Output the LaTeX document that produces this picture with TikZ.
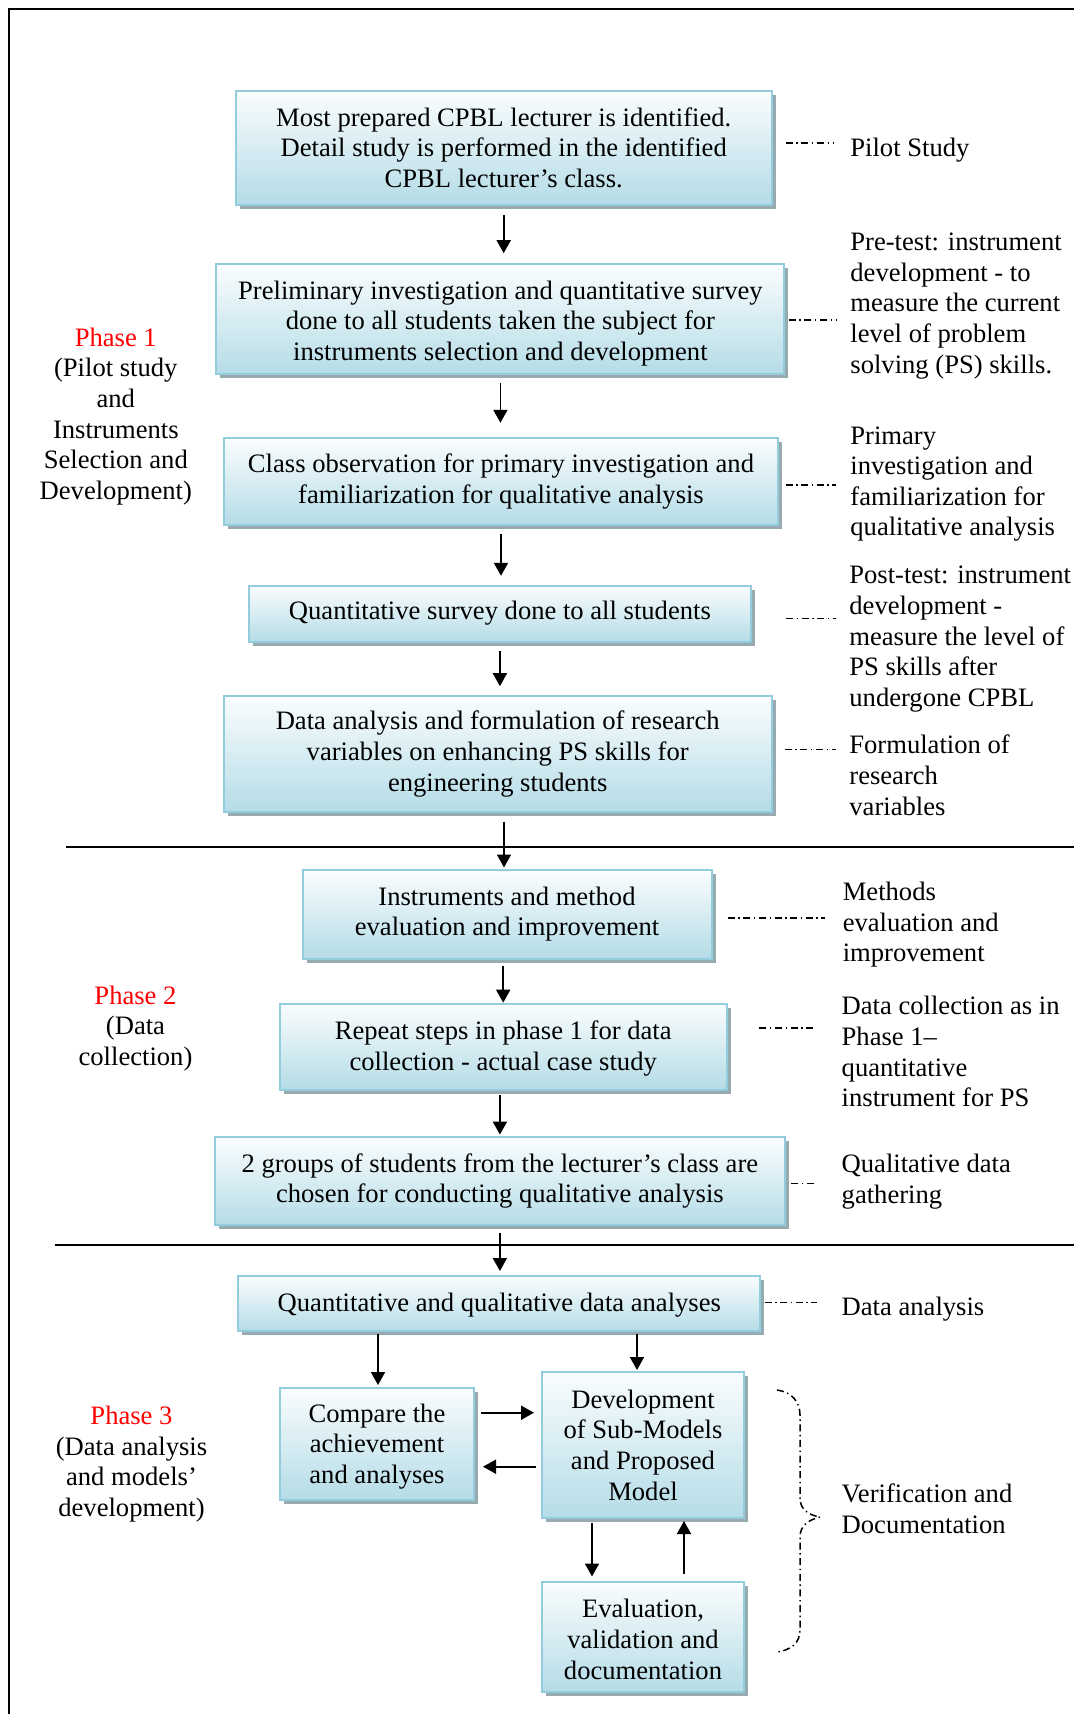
\documentclass[tikz,border=0pt]{standalone}
\usepackage{fontspec}
\setmainfont{Liberation Serif}
\usetikzlibrary{arrows.meta,calc,shadows}
\definecolor{boxtop}{HTML}{FAFDFE}
\definecolor{boxbot}{HTML}{B5DCE7}
\definecolor{boxline}{HTML}{93CDDD}
\definecolor{boxshade}{HTML}{97AAB0}
\newcommand\diagfont{\fontsize{13.3}{15.3}\selectfont}
% strut that lowers the text block of a box slightly
\newcommand\lowerby[1]{\rule{0pt}{\dimexpr 9.1pt+#1\relax}}
\tikzset{
  stage/.style={draw=boxline, line width=1pt, top color=boxtop, bottom color=boxbot,
    general shadow={fill=boxshade, shadow xshift=2pt, shadow yshift=-2pt},
    align=center, inner sep=0pt, font=\diagfont},
  note/.style={align=left, anchor=west, inner sep=0pt, font=\diagfont},
  phase/.style={align=center, inner sep=0pt, font=\diagfont},
  flow/.style={-{Triangle[length=6.5pt,width=7pt]}, line width=0.9pt},
  link/.style={line width=0.75pt, dash pattern=on 3.5pt off 1.8pt on 0.7pt off 1.8pt},
  rule/.style={line width=1pt}
}
\begin{document}
\begin{tikzpicture}[x=0.5pt,y=-0.5pt]
\useasboundingbox (0,0) rectangle (1074,1714);

% outer frame (top and left sides)
\draw[line width=1pt] (8.7,1714) -- (8.7,8.7) -- (1074,8.7);

% phase separators
\draw[rule] (65.6,846.8) -- (1074,846.8);
\draw[rule] (54.6,1244.5) -- (1074,1244.5);

% process boxes
\node[stage, minimum width=268pt, minimum height=57pt] (b1) at (503.7,147.5)
  {Most prepared CPBL lecturer is identified.\\Detail study is performed in the identified\\CPBL lecturer's class.};
\node[stage, minimum width=284pt, minimum height=55pt] (b2) at (500.4,319.0)
  {\lowerby{4.6pt}Preliminary investigation and quantitative survey\\done to all students taken the subject for\\instruments selection and development};
\node[stage, minimum width=277pt, minimum height=43.5pt] (b3) at (501,481.3)
  {Class observation for primary investigation and\\familiarization for qualitative analysis};
\node[stage, minimum width=251pt, minimum height=28pt] (b4) at (499.9,613.5)
  {Quantitative survey done to all students};
\node[stage, minimum width=274pt, minimum height=58pt] (b5) at (497.7,753.9)
  {Data analysis and formulation of research\\variables on enhancing PS skills for\\engineering students};
\node[stage, minimum width=204.5pt, minimum height=44.5pt] (b6) at (507,914)
  {Instruments and method\\evaluation and improvement};
\node[stage, minimum width=223.5pt, minimum height=43pt] (b7) at (503.2,1046.7)
  {\lowerby{2pt}Repeat steps in phase 1 for data\\collection - actual case study};
\node[stage, minimum width=285pt, minimum height=44pt] (b8) at (499.9,1181.1)
  {2 groups of students from the lecturer's class are\\chosen for conducting qualitative analysis};
\node[stage, minimum width=261pt, minimum height=27.5pt] (b9) at (499.3,1303.5)
  {\lowerby{2pt}Quantitative and qualitative data analyses};
\node[stage, minimum width=97pt, minimum height=56pt] (b10) at (377,1443.5)
  {\lowerby{3pt}Compare the\\achievement\\and analyses};
\node[stage, minimum width=101pt, minimum height=73pt] (b11) at (643,1445)
  {Development\\of Sub-Models\\and Proposed\\Model};
\node[stage, minimum width=101pt, minimum height=55pt] (b12) at (643,1636.5)
  {\lowerby{3pt}Evaluation,\\validation and\\documentation};

% main flow
\draw[flow] ($(b1.south)+(0,9.6)$) -- ($(b1.south |- b2.north)+(0,-9.8)$);
\draw[flow] ($(b2.south)+(0,7.6)$) -- ($(b2.south |- b3.north)+(0,-14)$);
\draw[flow] ($(b3.south)+(0,7.7)$) -- ($(b3.south |- b4.north)+(0,-8.7)$);
\draw[flow] ($(b4.south)+(0,8.8)$) -- ($(b4.south |- b5.north)+(0,-8.7)$);
\draw[flow] ($(b6.north |- b5.south)+(-3,8.7)$) -- ($(b6.north)+(-3,-1)$);
\draw[flow] ($(b7.north |- b6.south)+(0,6.6)$) -- (b7.north);
\draw[flow] ($(b8.north |- b7.south)+(0,4.4)$) -- ($(b8.north)+(0,-1.5)$);
\draw[flow] ($(b8.south)+(0,6.5)$) -- ($(b8.south |- b9.north)+(0,-4)$);
\draw[flow] ($(b10.north |- b9.south)+(1,1.5)$) -- ($(b10.north)+(1,-1.5)$);
\draw[flow] ($(b11.north |- b9.south)+(-6,1.5)$) -- ($(b11.north)+(-6,-1)$);

% model development loop
\coordinate (r0) at ($(b10.east)+(6,-30.8)$);
\coordinate (l0) at ($(b11.west)+(-5,21.7)$);
\draw[flow] (r0) -- ($(b11.west |- r0)+(-7,0)$);
\draw[flow] (l0) -- ($(b10.east |- l0)+(8,0)$);
\coordinate (d0) at ($(b11.south)+(-51,4)$);
\coordinate (u0) at ($(b12.north)+(41,-7)$);
\draw[flow] (d0) -- ($(b12.north -| d0)+(0,-4)$);
\draw[flow] (u0) -- ($(b11.south -| u0)+(0,2)$);

% descriptions on the right
\node[note] (n1) at (850,149.7) {Pilot Study};
\node[note] (n2) at (850,305.9) {Pre-test: instrument\\development - to\\measure the current\\level of problem\\solving (PS) skills.};
\node[note] (n3) at (850,484) {Primary\\investigation and\\familiarization for\\qualitative analysis};
\node[note] (n4) at (849,639.2) {Post-test: instrument\\development -\\measure the level of\\PS skills after\\undergone CPBL};
\node[note] (n5) at (849,775.2) {Formulation of\\research\\variables};
\node[note] (n6) at (842.4,924.9) {Methods\\evaluation and\\improvement};
\node[note] (n7) at (841.3,1051.6) {Data collection as in\\Phase 1--\\quantitative\\instrument for PS};
\node[note] (n8) at (841.3,1181.7) {Qualitative data\\gathering};
\node[note] (n9) at (841.3,1308.9) {Data analysis};
\node[note] (n10) at (841.3,1508.9) {Verification and\\Documentation};

% dash-dot leaders
\draw[link] ($(b1.east)+(13,-4.4)$) -- ++(48,0);
\draw[link] ($(b2.east)+(3.3,1.1)$) -- ++(47,0);
\draw[link] ($(b3.east)+(6.6,3.8)$) -- ++(50,0);
\draw[link] ($(b4.east)+(34,4.9)$) -- ++(50,0);
\draw[link] ($(b5.east)+(12,-4.4)$) -- ++(51,0);
\draw[link] ($(b6.east)+(15.3,3.8)$) -- ++(97,0);
\draw[link] ($(b7.east)+(31.7,-18.6)$) -- ++(55,0);
\draw[link] ($(b8.east)+(5.4,2.2)$) -- ++(26,0);
\draw[link] ($(b9.east)+(3.3,-1.1)$) -- ++(52.5,0);

% brace grouping the model development steps
\draw[link] (777,1390) .. controls (792,1392) and (800,1402) .. (800,1415)
  -- (800,1498) .. controls (800,1509) and (808,1515) .. (820,1517)
  .. controls (808,1520) and (800,1526) .. (800,1537)
  -- (800,1630) .. controls (800,1643) and (791,1650) .. (777,1652);

% phase labels
\node[phase] (p1) at (115.8,416.3) {\textcolor{red}{Phase 1}\\(Pilot study\\and\\Instruments\\Selection and\\Development)};
\node[phase] (p2) at (135.5,1028.2) {\textcolor{red}{Phase 2}\\(Data\\collection)};
\node[phase] (p3) at (131.5,1464.1) {\textcolor{red}{Phase 3}\\(Data analysis\\and models'\\development)};
\end{tikzpicture}
\end{document}
